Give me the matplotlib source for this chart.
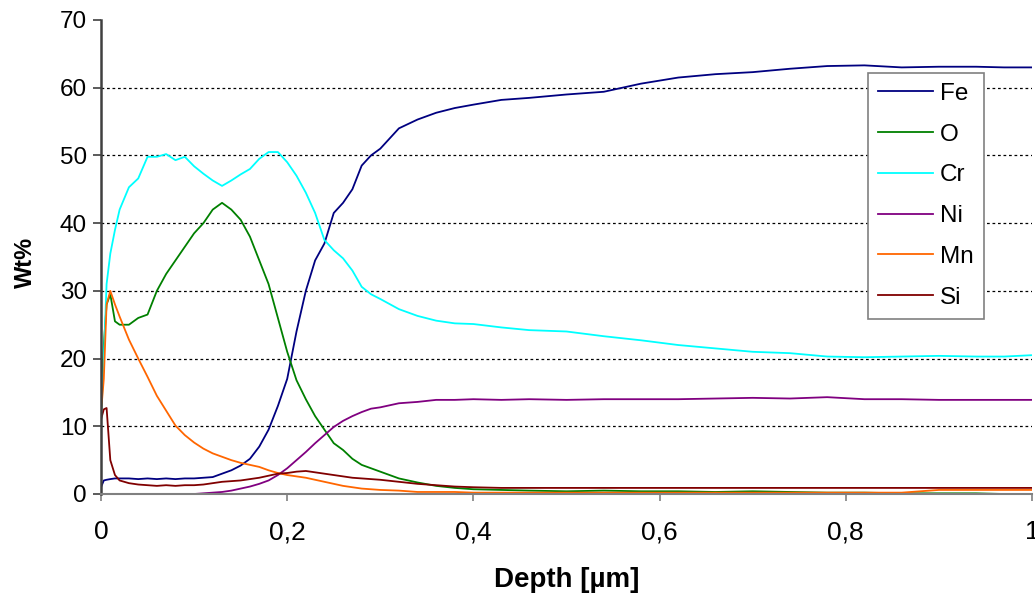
# -*- coding: utf-8 -*-
import matplotlib
matplotlib.use('Agg')
import matplotlib.pyplot as plt

# depth profile (depth in um, Wt%)
depth = [0, 0.003, 0.006, 0.01, 0.015, 0.02, 0.03, 0.04, 0.05, 0.06, 0.07, 0.08, 0.09, 0.10,
         0.11, 0.12, 0.13, 0.14, 0.15, 0.16, 0.17, 0.18, 0.19, 0.20, 0.21, 0.22, 0.23, 0.24,
         0.25, 0.26, 0.27, 0.28, 0.29, 0.30, 0.32, 0.34, 0.36, 0.38, 0.40, 0.43, 0.46, 0.50,
         0.54, 0.58, 0.62, 0.66, 0.70, 0.74, 0.78, 0.82, 0.86, 0.90, 0.94, 0.97, 1.0]
fe = [1.0, 2.0, 2.1, 2.2, 2.3, 2.3, 2.3, 2.2, 2.3, 2.2, 2.3, 2.2, 2.3, 2.3,
      2.4, 2.5, 3.0, 3.5, 4.2, 5.2, 7.0, 9.5, 13.0, 17.0, 24.0, 30.0, 34.5, 37.0,
      41.5, 43.0, 45.0, 48.5, 50.0, 51.0, 54.0, 55.3, 56.3, 57.0, 57.5, 58.2, 58.5, 59.0,
      59.4, 60.6, 61.5, 62.0, 62.3, 62.8, 63.2, 63.3, 63.0, 63.1, 63.1, 63.0, 63.0]
o = [12.0, 22.0, 28.0, 29.5, 25.5, 25.0, 25.0, 26.0, 26.5, 30.0, 32.5, 34.5, 36.5, 38.5,
     40.0, 42.0, 43.0, 42.0, 40.5, 38.0, 34.5, 31.0, 26.0, 21.0, 16.8, 14.0, 11.5, 9.5,
     7.5, 6.5, 5.2, 4.3, 3.8, 3.3, 2.3, 1.7, 1.2, 0.9, 0.7, 0.6, 0.5, 0.4,
     0.5, 0.4, 0.4, 0.3, 0.4, 0.3, 0.2, 0.2, 0.1, 0.1, 0.1, 0.0, 0.0]
cr = [11.0, 20.0, 31.0, 35.5, 39.0, 42.0, 45.3, 46.6, 49.8, 49.8, 50.2, 49.3, 49.8, 48.4,
      47.3, 46.3, 45.5, 46.3, 47.2, 48.0, 49.5, 50.5, 50.5, 49.0, 47.0, 44.5, 41.5, 37.5,
      36.0, 34.8, 33.0, 30.6, 29.5, 28.8, 27.3, 26.3, 25.6, 25.2, 25.1, 24.6, 24.2, 24.0,
      23.3, 22.7, 22.0, 21.5, 21.0, 20.8, 20.3, 20.2, 20.3, 20.4, 20.3, 20.3, 20.5]
ni = [0, 0, 0, 0, 0, 0, 0, 0, 0, 0, 0, 0, 0, 0,
      0.1, 0.2, 0.3, 0.5, 0.8, 1.1, 1.5, 2.0, 2.8, 3.8, 5.0, 6.2, 7.5, 8.7,
      9.9, 10.8, 11.5, 12.1, 12.6, 12.8, 13.4, 13.6, 13.9, 13.9, 14.0, 13.9, 14.0, 13.9,
      14.0, 14.0, 14.0, 14.1, 14.2, 14.1, 14.3, 14.0, 14.0, 13.9, 13.9, 13.9, 13.9]
mn = [12.0, 17.0, 28.0, 30.0, 28.0, 26.2, 22.8, 20.0, 17.3, 14.5, 12.3, 10.1, 8.7, 7.6,
      6.7, 6.0, 5.5, 5.0, 4.6, 4.3, 4.0, 3.5, 3.1, 2.8, 2.6, 2.4, 2.1, 1.8,
      1.5, 1.2, 1.0, 0.8, 0.7, 0.6, 0.5, 0.3, 0.3, 0.3, 0.2, 0.2, 0.2, 0.2,
      0.2, 0.2, 0.2, 0.2, 0.2, 0.2, 0.2, 0.2, 0.2, 0.6, 0.6, 0.6, 0.6]
si = [11.0, 12.5, 12.7, 5.0, 2.8, 2.0, 1.6, 1.4, 1.3, 1.2, 1.3, 1.2, 1.3, 1.3,
      1.4, 1.6, 1.8, 1.9, 2.0, 2.2, 2.4, 2.7, 3.0, 3.1, 3.3, 3.4, 3.2, 3.0,
      2.8, 2.6, 2.4, 2.3, 2.2, 2.1, 1.8, 1.5, 1.3, 1.1, 1.0, 0.9, 0.9, 0.9,
      0.9, 0.9, 0.9, 0.9, 0.9, 0.9, 0.9, 0.9, 0.9, 0.9, 0.9, 0.9, 0.9]

xticks = [0, 0.2, 0.4, 0.6, 0.8, 1.0]
xticklabels = ['0', '0,2', '0,4', '0,6', '0,8', '1']
yticks = [0, 10, 20, 30, 40, 50, 60, 70]

plt.rcParams['font.family'] = ['Liberation Sans', 'DejaVu Sans']

fig = plt.figure(figsize=(10.35, 6.01), dpi=100)
ax = fig.add_axes([101/1035, 1 - 494/601, 931/1035, 474/601])

series = [('Fe', fe, '#000080'), ('O', o, '#008000'), ('Cr', cr, '#00FFFF'),
          ('Ni', ni, '#800080'), ('Mn', mn, '#FF6600'), ('Si', si, '#800000')]
for name, vals, col in series:
    ax.plot(depth, vals, color=col, lw=1.3, label=name)

ax.set_xlim(0, 1)
ax.set_ylim(0, 70)
ax.set_xticks(xticks)
ax.set_xticklabels(xticklabels)
ax.set_yticks(yticks)

ax.yaxis.grid(True, color='black', ls=(0, (2.2, 2.2)), lw=0.9)
ax.get_ygridlines()[0].set_visible(False)
ax.get_ygridlines()[-1].set_visible(False)
ax.set_axisbelow(True)

for s in ('top', 'right'):
    ax.spines[s].set_visible(False)
ax.spines['left'].set(color='#404040', lw=1.8)
ax.spines['bottom'].set(color='#808080', lw=1.5)
ax.tick_params(axis='y', direction='out', length=6, width=1.2, color='#404040',
               pad=4, labelsize=17.5)
ax.tick_params(axis='x', direction='out', length=5, width=1.2, color='#808080',
               pad=14, labelsize=19)

fig.text(25/1035, 1 - 262/601, 'Wt%', rotation=90, ha='center', va='center',
         fontsize=17, fontweight='bold')
fig.text(567/1035, 1 - 580/601, 'Depth [µm]', ha='center', va='center',
         fontsize=20, fontweight='bold')

leg = ax.legend(loc='upper left', bbox_to_anchor=(868/1035, 1 - 73/601),
                bbox_transform=fig.transFigure, borderaxespad=0, fontsize=17.5,
                handlelength=2.26, handletextpad=0.29, labelspacing=0.77,
                borderpad=0.41, fancybox=False, framealpha=1)
leg.get_frame().set_edgecolor('#808080')
leg.get_frame().set_linewidth(1.2)

fig.savefig('out.png', dpi=100)
